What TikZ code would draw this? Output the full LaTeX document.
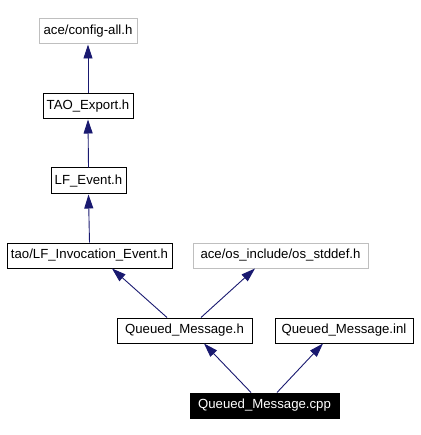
\documentclass[tikz,border=0pt]{standalone}
\usepackage{fontspec}
\setmainfont{Liberation Sans}
\usetikzlibrary{arrows.meta}
\definecolor{edgeblue}{HTML}{191970}
\definecolor{greyborder}{HTML}{BFBFBF}
\tikzset{
  filebox/.style={draw=black, line width=1pt, inner sep=0pt, minimum height=25pt, font=\fontsize{13.2}{15}\selectfont},
  extbox/.style={filebox, draw=greyborder},
  mainbox/.style={filebox, fill=black, text=white},
  dep/.style={draw=edgeblue, line width=0.9pt, -{Triangle[length=14pt,width=9pt]}},
}
\begin{document}
\begin{tikzpicture}[x=1pt,y=-1pt]
\useasboundingbox (0,0) rectangle (420,435);
\node[extbox, minimum width=98pt] (cfg) at (88,31.5) {ace/config-all.h};
\node[filebox, minimum width=90pt] (tao) at (88,106.5) {TAO\_Export.h};
\node[filebox, minimum width=75pt, minimum height=26pt] (lfe) at (88.5,181) {LF\_Event.h};
\node[filebox, minimum width=165pt] (lfi) at (89.5,255.5) {tao/LF\_Invocation\_Event.h};
\node[extbox, minimum width=175pt] (osd) at (280.5,255.5) {ace/os\_include/os\_stddef.h};
\node[filebox, minimum width=135pt] (qmh) at (184.5,330.5) {Queued\_Message.h};
\node[filebox, minimum width=138pt] (inl) at (344,330.5) {Queued\_Message.inl};
\node[mainbox, minimum width=149pt] (cpp) at (264.5,405.5) {Queued\_Message.cpp};
\draw[dep] (tao.north) -- (cfg.south);
\draw[dep] (lfe.north) -- (tao.south);
\draw[dep] (lfi.north) -- (lfe.south);
\draw[dep] ([xshift=-17.5pt]qmh.north) -- ([xshift=22.5pt]lfi.south);
\draw[dep] ([xshift=16.5pt]qmh.north) -- ([xshift=-25.5pt]osd.south);
\draw[dep] ([xshift=-13.5pt]cpp.north) -- ([xshift=19.5pt]qmh.south);
\draw[dep] ([xshift=12.5pt]cpp.north) -- ([xshift=-21pt]inl.south);
\end{tikzpicture}
\end{document}
